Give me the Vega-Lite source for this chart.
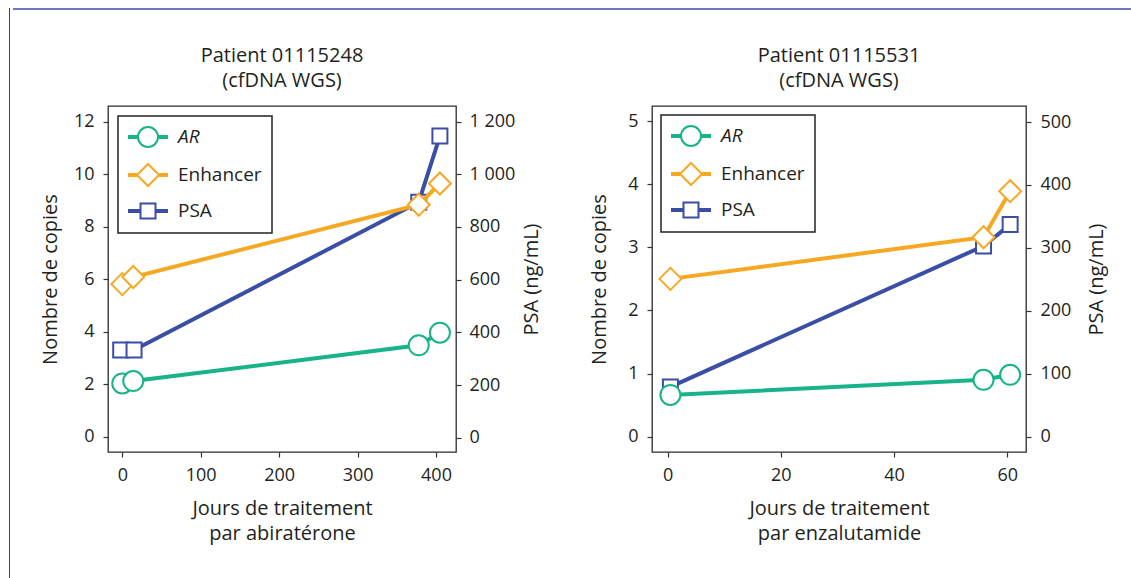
{
  "$schema": "https://vega.github.io/schema/vega-lite/v6.json",
  "padding": {"left": 6, "top": 6, "right": 0, "bottom": 0},
  "background": "white",
  "datasets": {
    "left": [
      {"series": "AR", "day": 0, "v": 2.03},
      {"series": "AR", "day": 14, "v": 2.12},
      {"series": "AR", "day": 378, "v": 3.48},
      {"series": "AR", "day": 405, "v": 3.96},
      {"series": "Enhancer", "day": 0, "v": 5.81},
      {"series": "Enhancer", "day": 14, "v": 6.08},
      {"series": "Enhancer", "day": 378, "v": 8.83},
      {"series": "Enhancer", "day": 405, "v": 9.64},
      {"series": "PSA", "day": -2, "v": 333},
      {"series": "PSA", "day": 15, "v": 333},
      {"series": "PSA", "day": 378, "v": 894},
      {"series": "PSA", "day": 405, "v": 1145}
    ],
    "right": [
      {"series": "AR", "day": 0.5, "v": 0.66},
      {"series": "AR", "day": 55.8, "v": 0.9},
      {"series": "AR", "day": 60.5, "v": 0.98},
      {"series": "Enhancer", "day": 0.5, "v": 2.5},
      {"series": "Enhancer", "day": 55.8, "v": 3.16},
      {"series": "Enhancer", "day": 60.5, "v": 3.89},
      {"series": "PSA", "day": 0.5, "v": 79},
      {"series": "PSA", "day": 55.8, "v": 303},
      {"series": "PSA", "day": 60.5, "v": 337}
    ]
  },
  "spacing": 0,
  "resolve": {"scale": {"color": "independent", "shape": "independent"}},
  "hconcat": [
    {
      "width": 1, "height": 572,
      "view": {"fill": "#2c3fae", "stroke": null},
      "data": {"values": [{}]},
      "mark": {"type": "point", "opacity": 0},
      "encoding": {}
    },
    {
      "spacing": 33,
      "resolve": {"scale": {"color": "independent", "shape": "independent"}},
      "vconcat": [
        {
          "width": 1124, "height": 2,
          "view": {"fill": "#6b79bf", "stroke": null},
          "data": {"values": [{}]},
          "mark": {"type": "point", "opacity": 0},
          "encoding": {}
        },
        {
          "spacing": 0,
          "resolve": {"scale": {"color": "independent", "shape": "independent"}},
          "hconcat": [
            {
              "width": 26, "height": 10,
              "view": {"stroke": null},
              "data": {"values": [{}]},
              "mark": {"type": "point", "opacity": 0},
              "encoding": {}
            },
            {
              "spacing": 46,
              "resolve": {"scale": {"color": "independent", "shape": "independent"}},
              "hconcat": [
                {
                  "width": 348, "height": 346,
                  "title": {"text": ["Patient 01115248", "(cfDNA WGS)"]},
                  "data": {"name": "left"},
                  "layer": [
                    {
                      "transform": [{"filter": "datum.series === 'PSA'"}],
                      "encoding": {
                        "x": {"field": "day", "type": "quantitative", "scale": {"domain": [-18.2, 425.5], "nice": false, "zero": false},
                              "axis": {"values": [0, 100, 200, 300, 400], "title": ["Jours de traitement", "par abiratérone"]}},
                        "y": {"field": "v", "type": "quantitative", "scale": {"domain": [-54, 1259], "nice": false, "zero": false},
                              "axis": {"orient": "right", "values": [0, 200, 400, 600, 800, 1000, 1200], "labelPadding": 8,
                                       "labelExpr": "replace(format(datum.value, ',d'), ',', ' ')",
                                       "title": "PSA (ng/mL)", "titleAngle": 270, "titleBaseline": "top", "titlePadding": 7}},
                        "color": {"field": "series", "type": "nominal",
                                  "scale": {"domain": ["AR", "Enhancer", "PSA"], "range": ["#19b38a", "#f7a823", "#3b4ea6"]}}
                      },
                      "layer": [
                        {"mark": {"type": "line", "strokeWidth": 4}},
                        {"mark": {"type": "point", "filled": false, "fill": "white", "opacity": 1, "strokeWidth": 2, "size": 400, "shape": "M-0.75,-0.75H0.75V0.75H-0.75Z"}}
                      ]
                    },
                    {
                      "transform": [{"filter": "datum.series !== 'PSA'"}],
                      "encoding": {
                        "x": {"field": "day", "type": "quantitative", "scale": {"domain": [-18.2, 425.5], "nice": false, "zero": false},
                              "axis": {"values": [0, 100, 200, 300, 400], "title": ["Jours de traitement", "par abiratérone"]}},
                        "y": {"field": "v", "type": "quantitative", "scale": {"domain": [-0.58, 12.59], "nice": false, "zero": false},
                              "axis": {"orient": "left", "values": [0, 2, 4, 6, 8, 10, 12], "title": "Nombre de copies", "titlePadding": 13}},
                        "color": {"field": "series", "type": "nominal",
                                  "scale": {"domain": ["AR", "Enhancer", "PSA"], "range": ["#19b38a", "#f7a823", "#3b4ea6"]},
                                  "legend": {"title": null, "orient": "top-left", "offset": 10, "symbolSize": 400, "symbolStrokeWidth": 2, "symbolFillColor": "white", "symbolOpacity": 1,
                                             "encode": {"labels": {"update": {"fontStyle": {"signal": "datum.value === 'AR' ? 'italic' : 'normal'"}}},
                                                        "legend": {"update": {"strokeWidth": {"value": 1.5}}}}}}
                      },
                      "layer": [
                        {"mark": {"type": "line", "strokeWidth": 4}},
                        {"transform": [{"filter": "datum.series === 'AR'"}],
                         "mark": {"type": "point", "filled": false, "fill": "white", "opacity": 1, "strokeWidth": 2, "size": 400, "shape": "M1,0A1,1 0 1,1 -1,0A1,1 0 1,1 1,0Z"}},
                        {"transform": [{"filter": "datum.series === 'Enhancer'"}],
                         "mark": {"type": "point", "filled": false, "fill": "white", "opacity": 1, "strokeWidth": 2, "size": 400, "shape": "M-1.1,0L0,-1.1L1.1,0L0,1.1Z"}},
                        {"transform": [{"filter": "false"}],
                         "mark": {"type": "point", "filled": false, "fill": "white", "opacity": 1, "strokeWidth": 2, "size": 400},
                         "encoding": {
                           "shape": {"field": "series", "type": "nominal",
                                     "scale": {"domain": ["AR", "Enhancer", "PSA"], "range": [
                                       "M-2,-0.09H-1M-2,0.09H-1M1,-0.09H2M1,0.09H2M1,0A1,1 0 1,1 -1,0A1,1 0 1,1 1,0Z",
                                       "M-2,-0.09H-1.1M-2,0.09H-1.1M1.1,-0.09H2M1.1,0.09H2M-1.1,0L0,-1.1L1.1,0L0,1.1Z",
                                       "M-2,-0.09H-0.75M-2,0.09H-0.75M0.75,-0.09H2M0.75,0.09H2M-0.75,-0.75H0.75V0.75H-0.75Z"]},
                                     "legend": {"title": null, "orient": "top-left", "offset": 10, "symbolSize": 400, "symbolStrokeWidth": 2, "symbolFillColor": "white", "symbolOpacity": 1,
                                                "encode": {"labels": {"update": {"fontStyle": {"signal": "datum.value === 'AR' ? 'italic' : 'normal'"}}},
                                                           "legend": {"update": {"strokeWidth": {"value": 1.5}}}}}}
                         }}
                      ]
                    }
                  ],
                  "resolve": {"scale": {"y": "independent"}}
                },
                {
                  "width": 374, "height": 346,
                  "title": {"text": ["Patient 01115531", "(cfDNA WGS)"]},
                  "data": {"name": "right"},
                  "layer": [
                    {
                      "transform": [{"filter": "datum.series === 'PSA'"}],
                      "encoding": {
                        "x": {"field": "day", "type": "quantitative", "scale": {"domain": [-2.75, 63.3], "nice": false, "zero": false},
                              "axis": {"values": [0, 20, 40, 60], "title": ["Jours de traitement", "par enzalutamide"]}},
                        "y": {"field": "v", "type": "quantitative", "scale": {"domain": [-24.5, 525.5], "nice": false, "zero": false},
                              "axis": {"orient": "right", "values": [0, 100, 200, 300, 400, 500], "labelPadding": 9,
                                       "title": "PSA (ng/mL)", "titleAngle": 270, "titleBaseline": "top", "titlePadding": 16}},
                        "color": {"field": "series", "type": "nominal",
                                  "scale": {"domain": ["AR", "Enhancer", "PSA"], "range": ["#19b38a", "#f7a823", "#3b4ea6"]}}
                      },
                      "layer": [
                        {"mark": {"type": "line", "strokeWidth": 4}},
                        {"mark": {"type": "point", "filled": false, "fill": "white", "opacity": 1, "strokeWidth": 2, "size": 400, "shape": "M-0.75,-0.75H0.75V0.75H-0.75Z"}}
                      ]
                    },
                    {
                      "transform": [{"filter": "datum.series !== 'PSA'"}],
                      "encoding": {
                        "x": {"field": "day", "type": "quantitative", "scale": {"domain": [-2.75, 63.3], "nice": false, "zero": false},
                              "axis": {"values": [0, 20, 40, 60], "title": ["Jours de traitement", "par enzalutamide"]}},
                        "y": {"field": "v", "type": "quantitative", "scale": {"domain": [-0.244, 5.24], "nice": false, "zero": false},
                              "axis": {"orient": "left", "values": [0, 1, 2, 3, 4, 5], "title": "Nombre de copies", "titlePadding": 18}},
                        "color": {"field": "series", "type": "nominal",
                                  "scale": {"domain": ["AR", "Enhancer", "PSA"], "range": ["#19b38a", "#f7a823", "#3b4ea6"]},
                                  "legend": {"title": null, "orient": "top-left", "offset": 9, "symbolSize": 400, "symbolStrokeWidth": 2, "symbolFillColor": "white", "symbolOpacity": 1,
                                             "encode": {"labels": {"update": {"fontStyle": {"signal": "datum.value === 'AR' ? 'italic' : 'normal'"}}},
                                                        "legend": {"update": {"strokeWidth": {"value": 1.5}}}}}}
                      },
                      "layer": [
                        {"mark": {"type": "line", "strokeWidth": 4}},
                        {"transform": [{"filter": "datum.series === 'AR'"}],
                         "mark": {"type": "point", "filled": false, "fill": "white", "opacity": 1, "strokeWidth": 2, "size": 400, "shape": "M1,0A1,1 0 1,1 -1,0A1,1 0 1,1 1,0Z"}},
                        {"transform": [{"filter": "datum.series === 'Enhancer'"}],
                         "mark": {"type": "point", "filled": false, "fill": "white", "opacity": 1, "strokeWidth": 2, "size": 400, "shape": "M-1.1,0L0,-1.1L1.1,0L0,1.1Z"}},
                        {"transform": [{"filter": "false"}],
                         "mark": {"type": "point", "filled": false, "fill": "white", "opacity": 1, "strokeWidth": 2, "size": 400},
                         "encoding": {
                           "shape": {"field": "series", "type": "nominal",
                                     "scale": {"domain": ["AR", "Enhancer", "PSA"], "range": [
                                       "M-2,-0.09H-1M-2,0.09H-1M1,-0.09H2M1,0.09H2M1,0A1,1 0 1,1 -1,0A1,1 0 1,1 1,0Z",
                                       "M-2,-0.09H-1.1M-2,0.09H-1.1M1.1,-0.09H2M1.1,0.09H2M-1.1,0L0,-1.1L1.1,0L0,1.1Z",
                                       "M-2,-0.09H-0.75M-2,0.09H-0.75M0.75,-0.09H2M0.75,0.09H2M-0.75,-0.75H0.75V0.75H-0.75Z"]},
                                     "legend": {"title": null, "orient": "top-left", "offset": 9, "symbolSize": 400, "symbolStrokeWidth": 2, "symbolFillColor": "white", "symbolOpacity": 1,
                                                "encode": {"labels": {"update": {"fontStyle": {"signal": "datum.value === 'AR' ? 'italic' : 'normal'"}}},
                                                           "legend": {"update": {"strokeWidth": {"value": 1.5}}}}}}
                         }}
                      ]
                    }
                  ],
                  "resolve": {"scale": {"y": "independent"}}
                }
              ]
            }
          ]
        }
      ]
    }
  ],
  "config": {
    "font": "Open Sans",
    "view": {"stroke": "#2b2b2b", "strokeWidth": 1.3},
    "title": {"fontSize": 20, "fontWeight": "normal", "color": "#231f20", "lineHeight": 25, "offset": 15, "anchor": "middle", "frame": "group"},
    "axis": {"domain": false, "grid": false, "tickSize": 5, "tickColor": "#333333", "tickWidth": 1.2,
             "labelFontSize": 18, "labelColor": "#231f20", "labelPadding": 9,
             "titleFontSize": 20, "titleFontWeight": "normal", "titleColor": "#231f20", "titleLineHeight": 25, "titlePadding": 16},
    "axisX": {"titlePadding": 14},
    "legend": {"labelFontSize": 19, "labelColor": "#231f20", "padding": 10, "rowPadding": 9,
               "strokeColor": "#222222", "fillColor": "white", "symbolOffset": 9, "labelOffset": 19, "labelLimit": 300}
  }
}
